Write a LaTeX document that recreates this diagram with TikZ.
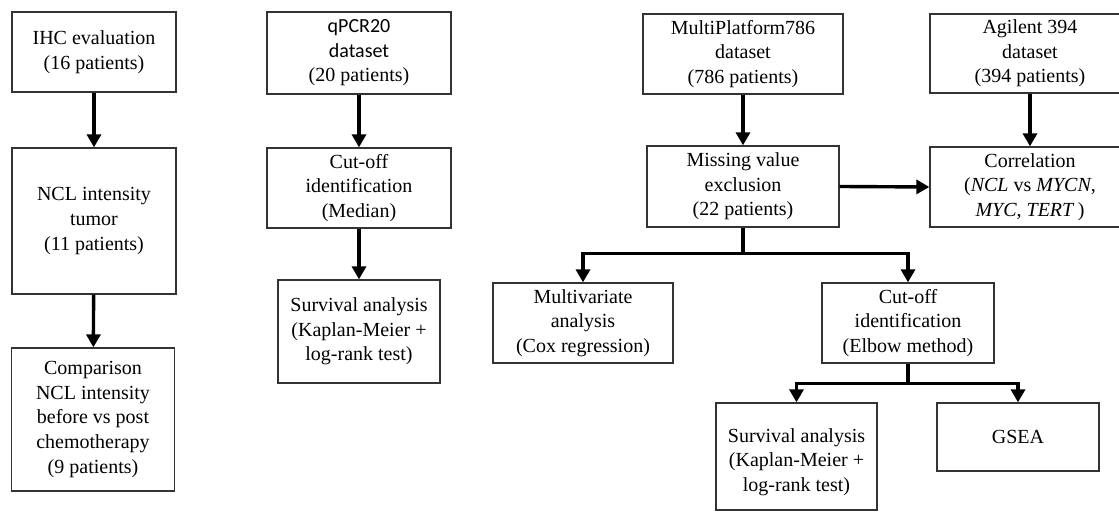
\documentclass[tikz,border=0pt]{standalone}
\usepackage{fontspec}
\setmainfont{Liberation Serif}
\newfontfamily\calfont{Carlito}
\usepackage{tikz}
\usetikzlibrary{positioning,arrows.meta,calc}

\begin{document}
\begin{tikzpicture}[x=0.5pt, y=-0.5pt,
    box/.style={draw=black!80, line width=0.65pt, rectangle, align=center, inner sep=1pt,
      font=\fontsize{10}{12.3}\selectfont},
    arr/.style={-{Triangle[length=6.5pt, width=7pt]}, line width=1.7pt}]
  \clip (0,0) rectangle (1119,522);
  % IHC
  \node[box, minimum width=82pt, minimum height=40pt] (ihc) at (94,52) {IHC evaluation\\(16 patients)};
  \node[box, minimum width=82pt, minimum height=73pt] (ncl) at (94,221) {NCL intensity\\tumor\\(11 patients)};
  \node[box, minimum width=81.5pt, minimum height=71.5pt] (comp) at (93,419.5) {Comparison\\NCL intensity\\before vs post\\chemotherapy\\(9 patients)};
  % qPCR20
  \node[box, minimum width=92pt, minimum height=41pt] (qpcr) at (359,53) {{\calfont qPCR20}\\{\calfont dataset}\\(20 patients)};
  \node[box, minimum width=92pt, minimum height=40pt] (cutmed) at (359,188) {Cut-off\\identification\\(Median)};
  \node[box, minimum width=81pt, minimum height=51.5pt] (surva) at (359,331.5) {Survival analysis\\(Kaplan-Meier +\\log-rank test)};
  % MultiPlatform786
  \node[box, minimum width=100pt, minimum height=40pt] (multi) at (743,54) {MultiPlatform786\\dataset\\(786 patients)};
  \node[box, minimum width=96pt, minimum height=40.5pt] (miss) at (743,186.5) {Missing value\\exclusion\\(22 patients)};
  \node[box, minimum width=90pt, minimum height=40pt] (mvar) at (583,323) {Multivariate\\analysis\\(Cox regression)};
  \node[box, minimum width=86pt, minimum height=40pt] (cutelb) at (908,323) {Cut-off\\identification\\(Elbow method)};
  \node[box, minimum width=80.5pt, minimum height=53.5pt] (survb) at (796.5,456.5) {\mbox{}\\Survival analysis\\(Kaplan-Meier +\\log-rank test)};
  \node[box, minimum width=81pt, minimum height=34pt] (gsea) at (1018,437) {GSEA};
  % Agilent 394
  \node[box, minimum width=100pt, minimum height=39.5pt] (agil) at (1030,53.5) {Agilent 394\\dataset\\(394 patients)};
  \node[box, minimum width=100pt, minimum height=40pt] (corr) at (1030,187) {Correlation\\(\textit{NCL} vs \textit{MYCN},\\\textit{MYC}, \textit{TERT}\,)};
  % arrows
  \draw[arr] (ihc) -- (ncl);
  \draw[arr] (ncl) -- (comp);
  \draw[arr] (qpcr) -- (cutmed);
  \draw[arr] (cutmed) -- (surva);
  \draw[arr] (multi) -- (miss);
  \draw[arr] (agil) -- (corr);
  \draw[arr] (miss.east) -- (corr.west);
  \draw[arr] (miss.south) -- ++(0,26) -| (mvar.north);
  \draw[arr] (miss.south) -- ++(0,26) -| (cutelb.north);
  \draw[arr] (cutelb.south) -- ++(0,20) -| (survb.north);
  \draw[arr] (cutelb.south) -- ++(0,20) -| (gsea.north);
\end{tikzpicture}
\end{document}
